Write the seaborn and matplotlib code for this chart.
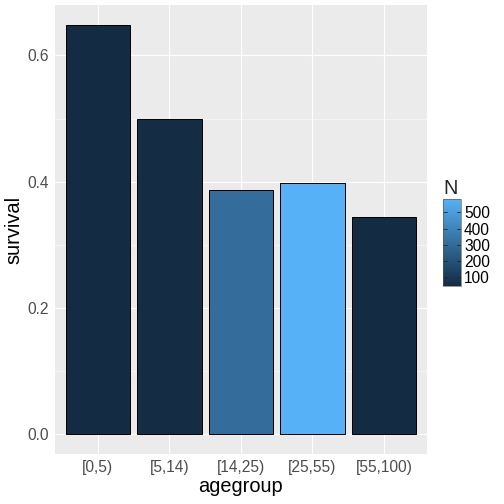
import matplotlib
matplotlib.use("Agg")
import matplotlib.pyplot as plt
import matplotlib.colors as mcolors
import seaborn as sns
import pandas as pd
import numpy as np

agegroups = ["[0,5)", "[5,14)", "[14,25)", "[25,55)", "[55,100)"]
survival = [0.648, 0.500, 0.387, 0.398, 0.344]
counts = [50, 52, 310, 582, 46]

df = pd.DataFrame({"agegroup": agegroups, "survival": survival, "N": counts})

# ggplot-like continuous fill scale
cmap = mcolors.LinearSegmentedColormap.from_list("gg", ["#132B43", "#56B1F7"])
norm = mcolors.Normalize(vmin=min(counts), vmax=max(counts))
pal = {g: cmap(norm(n)) for g, n in zip(agegroups, counts)}

sns.set_style("darkgrid")
plt.rcParams["font.family"] = ["Liberation Sans", "DejaVu Sans"]

fig = plt.figure(figsize=(7, 7), dpi=72)
ax = fig.add_axes([0.109, 0.099, 0.738, 0.891])
ax.set_facecolor("#EBEBEB")

sns.barplot(data=df, x="agegroup", y="survival", hue="agegroup", palette=pal,
            order=agegroups, legend=False, width=0.9, edgecolor="black",
            linewidth=1.0, saturation=1, ax=ax, zorder=3)

ax.set_xlim(-0.6, 4.6)
ax.set_ylim(-0.0324, 0.680)
ax.set_yticks([0.0, 0.2, 0.4, 0.6])
ax.set_yticklabels(["0.0", "0.2", "0.4", "0.6"])
ax.set_yticks([0.1, 0.3, 0.5], minor=True)
ax.grid(which="major", color="white", linewidth=1.1, zorder=0)
ax.grid(which="minor", axis="y", color="white", linewidth=0.55, zorder=0)
ax.set_axisbelow(True)
for s in ax.spines.values():
    s.set_visible(False)
ax.tick_params(axis="both", which="major", length=3, width=0.8, color="#333333",
               labelsize=15.5, labelcolor="#4D4D4D", pad=3)
ax.tick_params(axis="y", which="minor", length=0)
ax.set_xlabel("agegroup", fontsize=20, color="black", labelpad=2)
ax.set_ylabel("survival", fontsize=20, color="black", labelpad=4)

# colour bar legend
cax = fig.add_axes([0.879, 0.4325, 0.0357, 0.1726])
sm = matplotlib.cm.ScalarMappable(norm=norm, cmap=cmap)
cb = fig.colorbar(sm, cax=cax, ticks=[100, 200, 300, 400, 500])
cb.outline.set_edgecolor("#555555")
cb.outline.set_linewidth(0.6)
cax.tick_params(length=0, labelsize=15.5, labelcolor="black", pad=3)
for t in [100, 200, 300, 400, 500]:
    cax.plot([0, 0.2], [t, t], color="#222222", lw=0.8, transform=cax.get_yaxis_transform())
    cax.plot([0.8, 1], [t, t], color="#222222", lw=0.8, transform=cax.get_yaxis_transform())
cax.set_title("N", fontsize=20, loc="left", pad=5)

fig.savefig("out.png", dpi=72)
